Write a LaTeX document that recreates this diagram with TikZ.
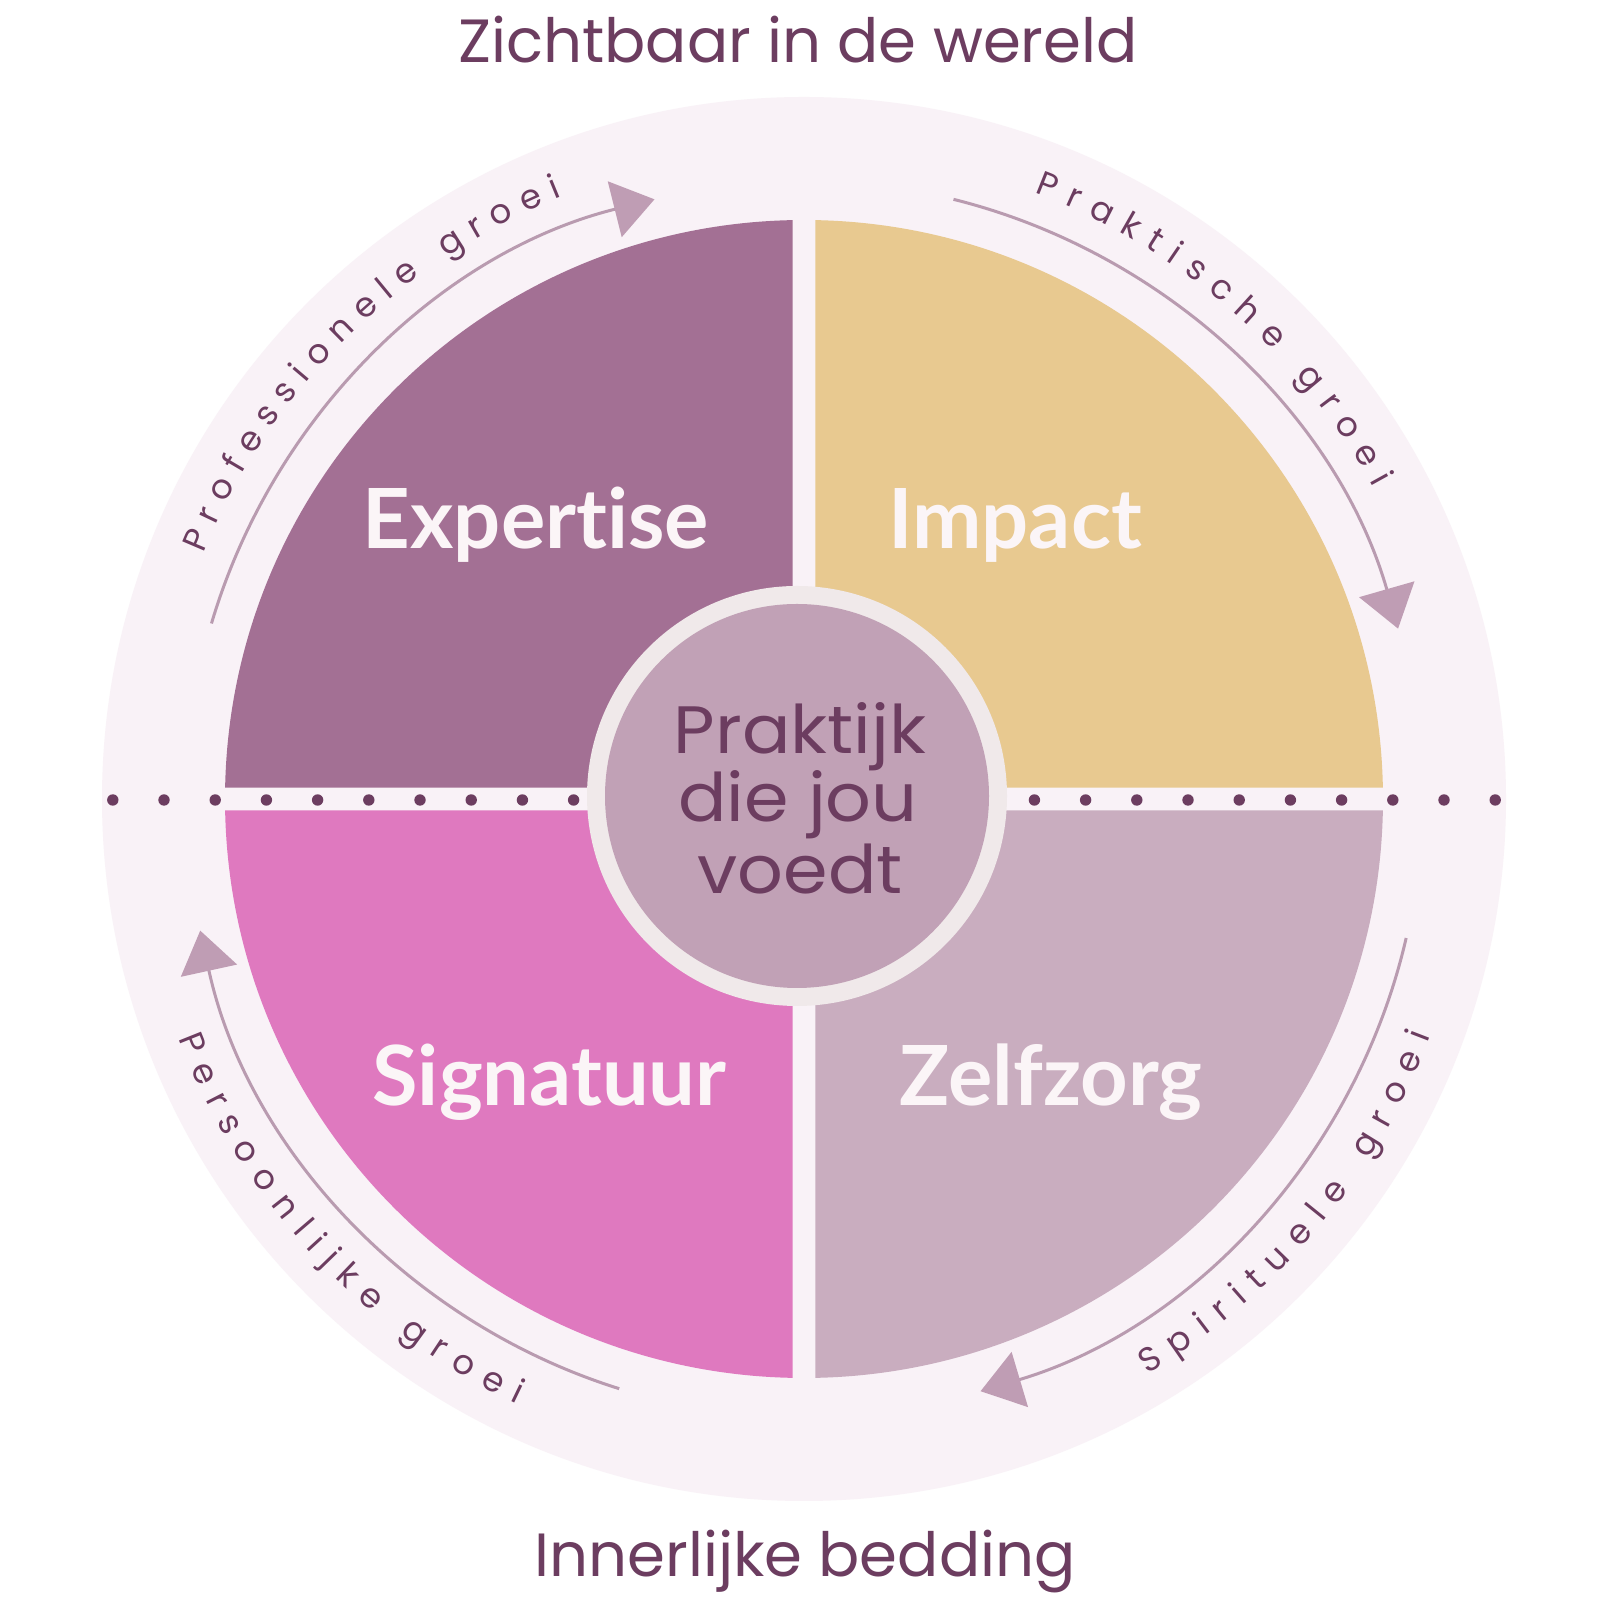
\documentclass[tikz,border=0pt]{standalone}
\usepackage{fontspec}
\setmainfont{Poppins}
\newfontfamily\popfont{Poppins}
\newfontfamily\ctfont{Poppins}[FakeStretch=1.07]
\newfontfamily\lblfont{Lato}[Ligatures=NoCommon]
\usetikzlibrary{arrows.meta,calc}
\definecolor{outerbg}{HTML}{F9F2F7}
\definecolor{qexp}{HTML}{A37094}
\definecolor{qimp}{HTML}{E8C990}
\definecolor{qsig}{HTML}{DF79BF}
\definecolor{qzel}{HTML}{C9ADBF}
\definecolor{ringc}{HTML}{F0E9EA}
\definecolor{centc}{HTML}{C1A1B6}
\definecolor{darkc}{HTML}{6C3D60}
\definecolor{lblc}{HTML}{FBF5F7}
\definecolor{arrline}{HTML}{B99BB0}
\definecolor{arrtip}{HTML}{BF9DB4}
\newcommand\cf{\popfont\fontsize{17}{20}\selectfont}
\newcommand\arctext[5]{%
  \begingroup\cf
  \gdef\arctotal{0}%
  \foreach \ch in {#5}{%
    \pgfmathsetmacro\chw{2*width("\ch")+#4}%
    \pgfmathsetmacro\atmp{\arctotal+\chw}%
    \global\let\arctotal\atmp
  }%
  \pgfmathsetmacro\arcspan{(\arctotal-#4)/#1*180/pi}%
  \pgfmathsetmacro\atmp{#2+#3*\arcspan/2}%
  \global\let\arccur\atmp
  \foreach \ch in {#5}{%
    \pgfmathsetmacro\chw{2*width("\ch")}%
    \pgfmathsetmacro\midang{\arccur-#3*\chw/2/#1*180/pi}%
    \pgfmathsetmacro\rotang{\midang-#3*90}%
    \node[arctxt,rotate=\rotang] at (\midang:#1) {\ch};
    \pgfmathsetmacro\atmp{\arccur-#3*(\chw+#4)/#1*180/pi}%
    \global\let\arccur\atmp
  }%
  \endgroup
}
\tikzset{
  hdr/.style={font=\popfont\fontsize{30.5}{36}\selectfont, text=darkc, inner sep=0pt, anchor=base},
  qlabel/.style={font=\lblfont\bfseries\fontsize{41.5}{48}\selectfont, text=lblc, inner sep=0pt, anchor=base},
  ctext/.style={font=\ctfont\fontsize{33.5}{40}\selectfont, text=darkc, inner sep=0pt, anchor=base},
  arctxt/.style={font=\cf, text=darkc, inner sep=0pt, anchor=base, text height=0.5em, text depth=0pt},
  growarrow/.style={draw=arrline, line width=1.5pt, -{Triangle[length=20.5pt,width=28.5pt,color=arrtip]}},
  dotc/.style={fill=darkc},
}
\begin{document}
\begin{tikzpicture}[x=0.5pt,y=0.5pt]
\useasboundingbox (0,0) rectangle (1600,1600);
\fill[white] (0,0) rectangle (1600,1600);
\coordinate (C) at (804,801);
\node[hdr] (top) at (798,1537) {Zichtbaar in de wereld};
\node[hdr] (bottom) at (805,24) {Innerlijke bedding};
\fill[outerbg] (C) circle[radius=702];
\begin{scope}[shift={(C)}]
  % quadrants
  \fill[qexp] (-11.35,11.35) -- (91.123:579) arc[start angle=91.123, end angle=178.877, radius=579] -- cycle;
  \fill[qimp] (11.35,11.35) -- (88.877:579) arc[start angle=88.877, end angle=1.123, radius=579] -- cycle;
  \fill[qsig] (-11.35,-11.35) -- (181.123:579) arc[start angle=181.123, end angle=268.877, radius=579] -- cycle;
  \fill[qzel] (11.35,-11.35) -- (271.123:579) arc[start angle=271.123, end angle=358.877, radius=579] -- cycle;
  % dotted line
  \foreach \k in {0,...,13}{
    \fill[dotc] (25.6+51.2*\k,-1) circle[radius=5.7];
    \fill[dotc] (-25.6-51.2*\k,-1) circle[radius=5.7];
  }
  % centre
  \fill[ringc] (-7,3) circle[radius=210];
  \fill[centc] (-7,3) circle[radius=192];
  % growth arrows
  \coordinate (a1) at (163.5:618);
  \coordinate (a2) at (76:618);
  \coordinate (a3) at (-13:618);
  \coordinate (a4) at (252.6:618);
  \draw[growarrow] (a1) arc[start angle=163.5, end angle=104, radius=618];
  \draw[growarrow] (a2) arc[start angle=76, end angle=16, radius=618];
  \draw[growarrow] (a3) arc[start angle=-13, end angle=-73.4, radius=618];
  \draw[growarrow] (a4) arc[start angle=252.6, end angle=192.3, radius=618];
  % curved texts
  \arctext{649}{134.8}{1}{11.1}{P,r,o,f,e,s,s,i,o,n,e,l,e,~,g,r,o,e,i}
  \arctext{649}{48.9}{1}{12.6}{P,r,a,k,t,i,s,c,h,e,~,g,r,o,e,i}
  \arctext{670}{222.8}{-1}{12.6}{P,e,r,s,o,o,n,l,i,j,k,e,~,g,r,o,e,i}
  \arctext{670}{-39.9}{-1}{13.1}{S,p,i,r,i,t,u,e,l,e,~,g,r,o,e,i}
\end{scope}
% centre text
\node[ctext] (c1) at (800,846.7) {Praktijk};
\node[ctext] (c2) at (798,778.3) {die jou};
\node[ctext] (c3) at (800,706.7) {voedt};
% quadrant labels
\node[qlabel] (exp) at (536,1051) {Expertise};
\node[qlabel] (imp) at (1015,1051) {Impact};
\node[qlabel] (sig) at (549.5,494) {Signatuur};
\node[qlabel] (zel) at (1051,494) {Zelfzorg};
\end{tikzpicture}
\end{document}
